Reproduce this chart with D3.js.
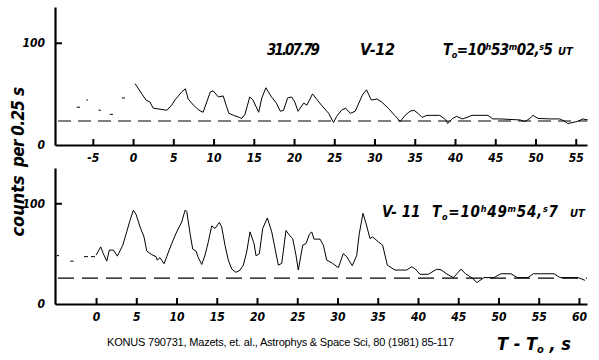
<!DOCTYPE html>
<html>
<head>
<meta charset="utf-8">
<script src="https://cdn.jsdelivr.net/npm/d3@7"></script>
<style>
  body { margin: 0; background: #fff; }
  svg { display: block; }
  .hand { font-family: 'Liberation Sans Narrow', 'DejaVu Sans Condensed', sans-serif; font-style: italic; font-weight: bold; }
</style>
</head>
<body>
<div id="chart"></div>
<script>
let width = 599,
	height = 360;

// V-12 (top panel), time in s after T0, counts per 0.25 s
const topTime = [0.25, 1.6, 2.1, 2.5, 4.2, 4.8, 5.2, 6.05, 6.5, 6.85,
	7.5, 8.2, 8.7, 9.6, 9.95, 10.6, 11.2, 11.6, 11.9, 12.5,
	13.2, 13.5, 13.9, 14.5, 14.9, 15.6, 16.0, 16.5, 17.2, 17.8,
	18.3, 18.7, 19.2, 19.7, 20.1, 20.5, 21.2, 21.6, 22.3, 22.8,
	23.4, 24.3, 24.9, 25.3, 25.9, 26.4, 27.0, 27.6, 28.5, 29.0,
	29.6, 30.3, 30.9, 31.7, 32.5, 33.2, 33.8, 34.4, 34.9, 35.4,
	35.9, 36.5, 38.1, 38.8, 39.1, 39.7, 40.2, 40.9, 41.5, 42.1,
	44.1, 44.7, 45.6, 48.1, 48.7, 49.3, 49.7, 50.3, 51.8, 53.0,
	53.7, 54.0, 55.2, 55.9, 56.5];
const topCounts = [60, 44, 42, 36, 34, 39, 44, 52, 55, 45,
	39, 34, 32, 52, 53, 47, 48, 38, 31, 29,
	27, 26, 30, 47, 44, 32, 46, 56, 47, 41,
	33, 34, 46, 47, 42, 33, 41, 39, 50, 45,
	39, 31, 22, 28, 34, 36, 31, 33, 49, 54,
	44, 45, 42, 36, 29, 23, 29, 33, 34, 31,
	27, 29, 29, 25, 21, 26, 28, 25.5, 27, 29,
	29, 25.5, 25.5, 24.5, 23, 26, 29, 26, 25.5, 25.5,
	23, 21, 23, 25.5, 24.5];
// pre-burst background levels (short segments)
const topPreStart = [-7.0, -5.8, -4.3, -2.9, -1.4];
const topPreEnd = [-6.6, -5.6, -4.0, -2.5, -1.0];
const topPreLevel = [37, 44, 34, 30, 46];
const topBackground = 23.5;
const topTicks = [-5, 0, 5, 10, 15, 20, 25, 30, 35, 40, 45, 50, 55];

// V-11 (bottom panel)
const botTime = [0, 0.58, 0.9, 1.33, 1.65, 2.15, 2.65, 3.32, 3.81, 4.22,
	4.63, 4.97, 5.47, 5.96, 6.3, 6.92, 7.45, 7.61, 7.95, 8.45,
	8.78, 9.4, 10.02, 10.65, 11.06, 11.27, 11.68, 12.01, 12.42, 12.71,
	13.13, 13.54, 13.95, 14.37, 14.78, 15.32, 15.61, 16.02, 16.43, 16.86,
	17.39, 17.89, 18.3, 18.72, 19.13, 19.63, 19.88, 20.29, 20.71, 21.28,
	21.83, 22.24, 22.65, 23.07, 23.6, 24.1, 24.43, 24.84, 25.13, 25.68,
	26.09, 26.5, 26.8, 27.08, 27.83, 28.24, 28.66, 29.4, 30.1, 30.72,
	31.14, 31.84, 32.38, 32.71, 33.17, 33.54, 34.04, 34.37, 35.07, 35.61,
	36.19, 37.14, 38.6, 39.22, 39.63, 40.25, 41.28, 42.32, 42.86, 43.6,
	44.39, 44.84, 45.34, 45.9, 46.7, 47.33, 48.2, 49.44, 50.3, 51.55,
	52.36, 53.66, 54.32, 56.9, 57.64, 59.91, 60.75];
const botCounts = [48.5, 56.7, 50, 42.6, 53.5, 53.5, 47.5, 58.4, 71.6, 83,
	93, 89, 76.5, 66.6, 52.5, 49, 47, 43.6, 46, 40,
	47, 60, 71.6, 81.5, 93, 92, 70, 54.5, 52.5, 46,
	39.3, 48.5, 61.7, 77.5, 75, 81, 76.5, 58.4, 43.6, 34.7,
	31.4, 33.7, 38.6, 51.8, 71.6, 60, 47.8, 50, 75, 85.4,
	71.6, 55, 38.6, 40.3, 73, 67.6, 65, 48.5, 33.7, 58.4,
	60, 69, 71.6, 64.4, 64.4, 58.4, 43.6, 40.3, 36, 50,
	47, 38, 48, 70, 90, 80, 65, 66.6, 61.7, 58.4,
	38.6, 33.7, 33.7, 37, 35, 29.5, 29.5, 34.5, 34, 29.7,
	26.2, 30, 34.6, 30, 26, 21.3, 26.2, 26.2, 30, 30,
	26.2, 26.2, 30, 30, 26.2, 26.2, 23.5];
const botPreStart = [-4.9, -3.2, -1.5];
const botPreEnd = [-4.6, -2.8, -0.1];
const botPreLevel = [48, 42.5, 47];
const botBackground = 25.7;
const botTicks = [0, 5, 10, 15, 20, 25, 30, 35, 40, 45, 50, 55, 60];

const yTicks = [0, 100];

let svg = d3.select('#chart').append('svg').attr('width', width).attr('height', height);

function panel(o) {
	let x = d3.scaleLinear().domain(o.xDomain).range([55, 587]);
	let y = d3.scaleLinear().domain([0, 135]).range([o.y0, o.y1]);
	let g = svg.append('g');

	// background level
	g.append('line')
		.attr('x1', 58).attr('x2', 587)
		.attr('y1', y(o.background)).attr('y2', y(o.background))
		.attr('stroke', '#000').attr('stroke-width', 1.2)
		.attr('stroke-dasharray', o.dash);

	// pre-burst segments
	g.selectAll('.pre').data(o.preStart).enter().append('line')
		.attr('x1', d => x(d))
		.attr('x2', (d, i) => x(o.preEnd[i]))
		.attr('y1', (d, i) => y(o.preLevel[i]))
		.attr('y2', (d, i) => y(o.preLevel[i]))
		.attr('stroke', '#000').attr('stroke-width', 1)
		.attr('stroke-dasharray', o.preDash || null);

	// light curve
	let line = d3.line().x(d => x(d[0])).y(d => y(d[1]));
	g.append('path')
		.datum(o.time.map((t, i) => [t, o.counts[i]]))
		.attr('d', line)
		.attr('fill', 'none').attr('stroke', '#000').attr('stroke-width', 1);

	// x axis: ticks point up, labels below
	let xa = g.append('g').attr('transform', `translate(0,${o.y0})`)
		.call(d3.axisBottom(x).tickValues(o.ticks).tickFormat(d => d)
			.tickSizeInner(-6).tickSizeOuter(0).tickPadding(8));
	xa.select('.domain').attr('stroke-width', 2.2);
	xa.selectAll('.tick line').attr('stroke-width', 2);
	xa.selectAll('.tick text').attr('class', 'hand').attr('font-size', 12).attr('dy', '0.72em');

	// y axis: ticks point right
	let ya = g.append('g').attr('transform', 'translate(55,0)')
		.call(d3.axisLeft(y).tickValues(yTicks).tickSizeInner(-7).tickSizeOuter(0).tickPadding(10));
	ya.select('.domain').attr('stroke-width', 2.2);
	ya.selectAll('.tick line').attr('stroke-width', 2);
	ya.selectAll('.tick text').attr('class', 'hand').attr('font-size', 12);
	ya.selectAll('.tick').filter(d => d === 0).select('line').remove();
}

panel({
	xDomain: [-9.7, 56.4], y0: 145, y1: 7,
	time: topTime, counts: topCounts,
	preStart: topPreStart, preEnd: topPreEnd, preLevel: topPreLevel,
	background: topBackground, dash: '13,7', ticks: topTicks
});
panel({
	xDomain: [-5.1, 61], y0: 304, y1: 168,
	time: botTime, counts: botCounts,
	preStart: botPreStart, preEnd: botPreEnd, preLevel: botPreLevel, preDash: '4,3',
	background: botBackground, dash: '16,8', ticks: botTicks
});

// annotations
function epoch(xp, yp, m, s1, s2, len) {
	let t = svg.append('text').attr('class', 'hand').attr('x', xp).attr('y', yp)
		.attr('font-size', 15).attr('textLength', len).attr('lengthAdjust', 'spacing');
	t.append('tspan').text('T');
	t.append('tspan').attr('font-size', 9).attr('dy', 3).text('o');
	t.append('tspan').attr('dy', -3).text('=10');
	t.append('tspan').attr('font-size', 9).attr('dy', -5).text('h');
	t.append('tspan').attr('dy', 5).text(m);
	t.append('tspan').attr('font-size', 9).attr('dy', -5).text('m');
	t.append('tspan').attr('dy', 5).text(s1 + ',');
	t.append('tspan').attr('font-size', 9).attr('dy', -5).text('s');
	t.append('tspan').attr('dy', 5).text(s2);
}
svg.append('text').attr('class', 'hand').attr('x', 267).attr('y', 55)
	.attr('font-size', 15).attr('textLength', 53).text('31.07.79');
svg.append('text').attr('class', 'hand').attr('x', 360).attr('y', 55)
	.attr('font-size', 16).attr('textLength', 35).text('V-12');
epoch(443, 55, '53', '02', '5', 110);
svg.append('text').attr('class', 'hand').attr('x', 558).attr('y', 55)
	.attr('font-size', 11).text('UT');

svg.append('text').attr('class', 'hand').attr('x', 382).attr('y', 217)
	.attr('font-size', 15).text('V- 11');
epoch(432, 217, '49', '54', '7', 126);
svg.append('text').attr('class', 'hand').attr('x', 570).attr('y', 217)
	.attr('font-size', 11).text('UT');

// y label, in two pieces as in the original lettering
svg.append('text').attr('class', 'hand')
	.attr('transform', 'translate(24,206) rotate(-90)')
	.attr('text-anchor', 'middle').attr('font-size', 18)
	.text('counts');
svg.append('text').attr('class', 'hand')
	.attr('transform', 'translate(24,127) rotate(-90)')
	.attr('text-anchor', 'middle').attr('font-size', 17)
	.attr('textLength', 80).attr('lengthAdjust', 'spacing')
	.text('per  0.25  s');

// x label
let xl = svg.append('text').attr('class', 'hand').attr('x', 497).attr('y', 350).attr('font-size', 18);
xl.append('tspan').text('T - T');
xl.append('tspan').attr('font-size', 11).attr('dy', 3).text('o');
xl.append('tspan').attr('dy', -3).text(' , s');

// source
svg.append('text').attr('x', 107).attr('y', 346)
	.attr('font-family', 'Liberation Sans, Arial, sans-serif').attr('font-size', 11)
	.attr('textLength', 347).attr('lengthAdjust', 'spacing')
	.text('KONUS 790731, Mazets, et. al., Astrophys & Space Sci, 80 (1981) 85-117');
</script>
</body>
</html>
